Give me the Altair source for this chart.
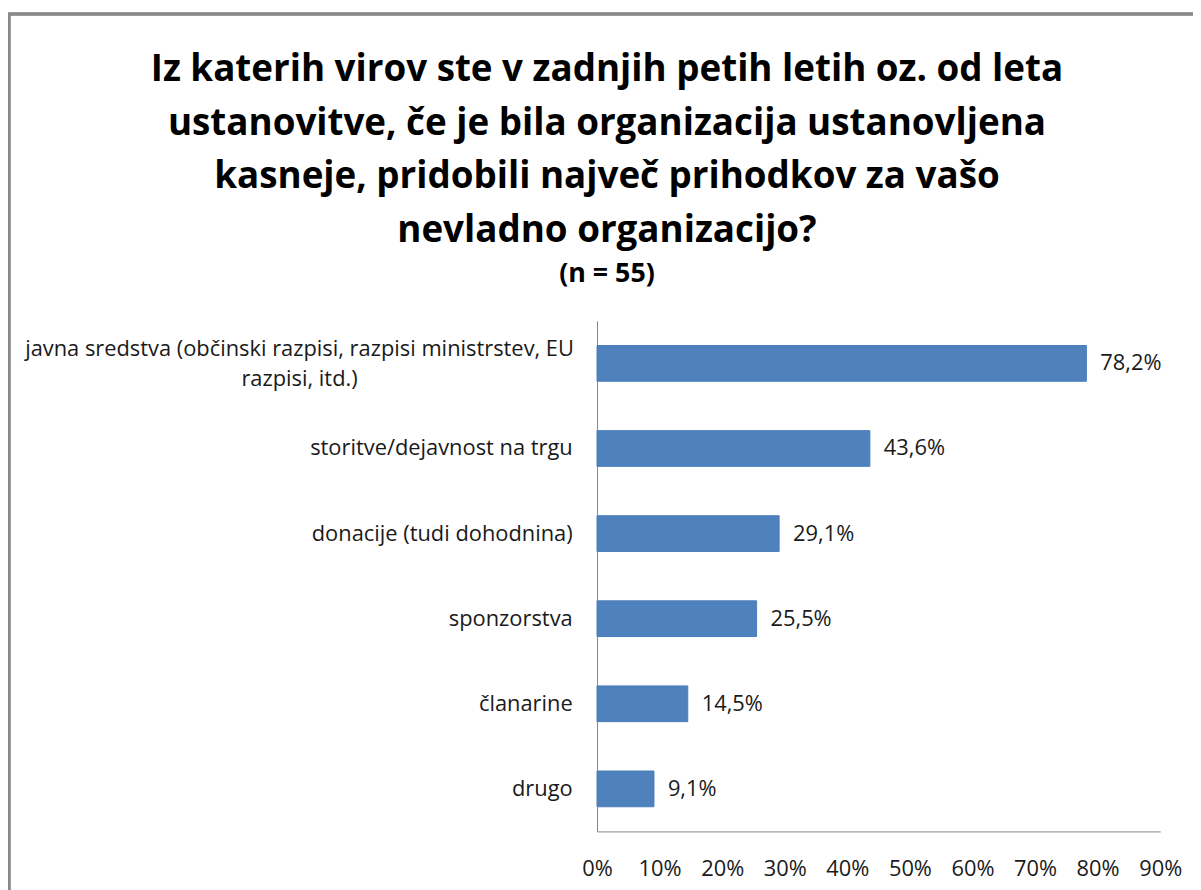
import altair as alt
import pandas as pd

categories = [
    "javna sredstva (občinski razpisi, razpisi ministrstev, EU razpisi, itd.)",
    "storitve/dejavnost na trgu",
    "donacije (tudi dohodnina)",
    "sponzorstva",
    "članarine",
    "drugo",
]
values = [78.2, 43.6, 29.1, 25.5, 14.5, 9.1]
x_ticks = [0, 10, 20, 30, 40, 50, 60, 70, 80, 90]

title_lines = [
    "Iz katerih virov ste v zadnjih petih letih oz. od leta",
    "ustanovitve, če je bila organizacija ustanovljena",
    "kasneje, pridobili največ prihodkov za vašo",
    "nevladno organizacijo?",
]
subtitle = "(n = 55)"

df = pd.DataFrame({"cat": categories, "val": values})

FONT = "Open Sans"
BLUE = "#4F81BD"
FIRST = "indexof(datum.value, 'javna') == 0"
FS = 22

y_enc = alt.Y(
    "cat:N",
    sort=categories,
    title=None,
    scale=alt.Scale(paddingInner=0.58, paddingOuter=0.29),
    axis=alt.Axis(
        ticks=False,
        domainColor="#868686",
        domainWidth=1,
        labelFont=FONT,
        labelFontSize=FS,
        labelColor="#1a1a1a",
        labelLimit=700,
        labelLineHeight=30,
        labelExpr=FIRST + " ? ['javna sredstva (občinski razpisi, razpisi ministrstev, EU', 'razpisi, itd.)'] : datum.value",
        labelAlign={"condition": {"test": FIRST, "value": "center"}, "value": "right"},
        labelPadding={"condition": {"test": FIRST, "value": 300}, "value": 25},
        labelOffset={"condition": {"test": FIRST, "value": -14}, "value": 0},
    ),
)

x_enc = alt.X(
    "val:Q",
    title=None,
    scale=alt.Scale(domain=[0, 90], nice=False),
    axis=alt.Axis(
        values=x_ticks,
        ticks=False,
        grid=False,
        domainColor="#868686",
        labelFont=FONT,
        labelFontSize=FS,
        labelColor="#1a1a1a",
        labelPadding=27,
        labelFlush=False,
        labelExpr="datum.value + '%'",
    ),
)

bars = alt.Chart(df).mark_bar(color=BLUE, stroke="#4A7EBB", strokeWidth=1).encode(x=x_enc, y=y_enc)

text = alt.Chart(df).transform_calculate(
    lab="replace(format(datum.val, '.1f'), '.', ',') + '%'"
).mark_text(align="left", baseline="middle", dx=14, font=FONT, fontSize=FS, color="#1a1a1a").encode(
    x="val:Q", y=alt.Y("cat:N", sort=categories), text="lab:N"
)

frame = alt.Chart(df).mark_rect(fill=None, stroke="#898989", strokeWidth=2.5).encode(
    x=alt.value(-592), x2=alt.value(620), y=alt.value(-309), y2=alt.value(620)
)

chart = alt.layer(frame, bars, text).properties(
    width=567,
    height=514,
    padding={"left": 593, "top": 312, "right": 33, "bottom": 56},
    autosize=alt.AutoSizeParams(type="none"),
    title=alt.TitleParams(
        text=title_lines,
        subtitle=subtitle,
        font=FONT,
        fontSize=37,
        fontWeight="bold",
        lineHeight=54,
        color="#000000",
        subtitleFont=FONT,
        subtitleFontSize=27,
        subtitleFontWeight="bold",
        subtitleColor="#000000",
        subtitlePadding=11,
        anchor="middle",
        frame="bounds",
        offset=-277,
        dx=-4,
    ),
).configure(background="white", view=alt.ViewConfig(stroke=None))

chart.save("out.html", embed_options={"renderer": "svg", "actions": False})
